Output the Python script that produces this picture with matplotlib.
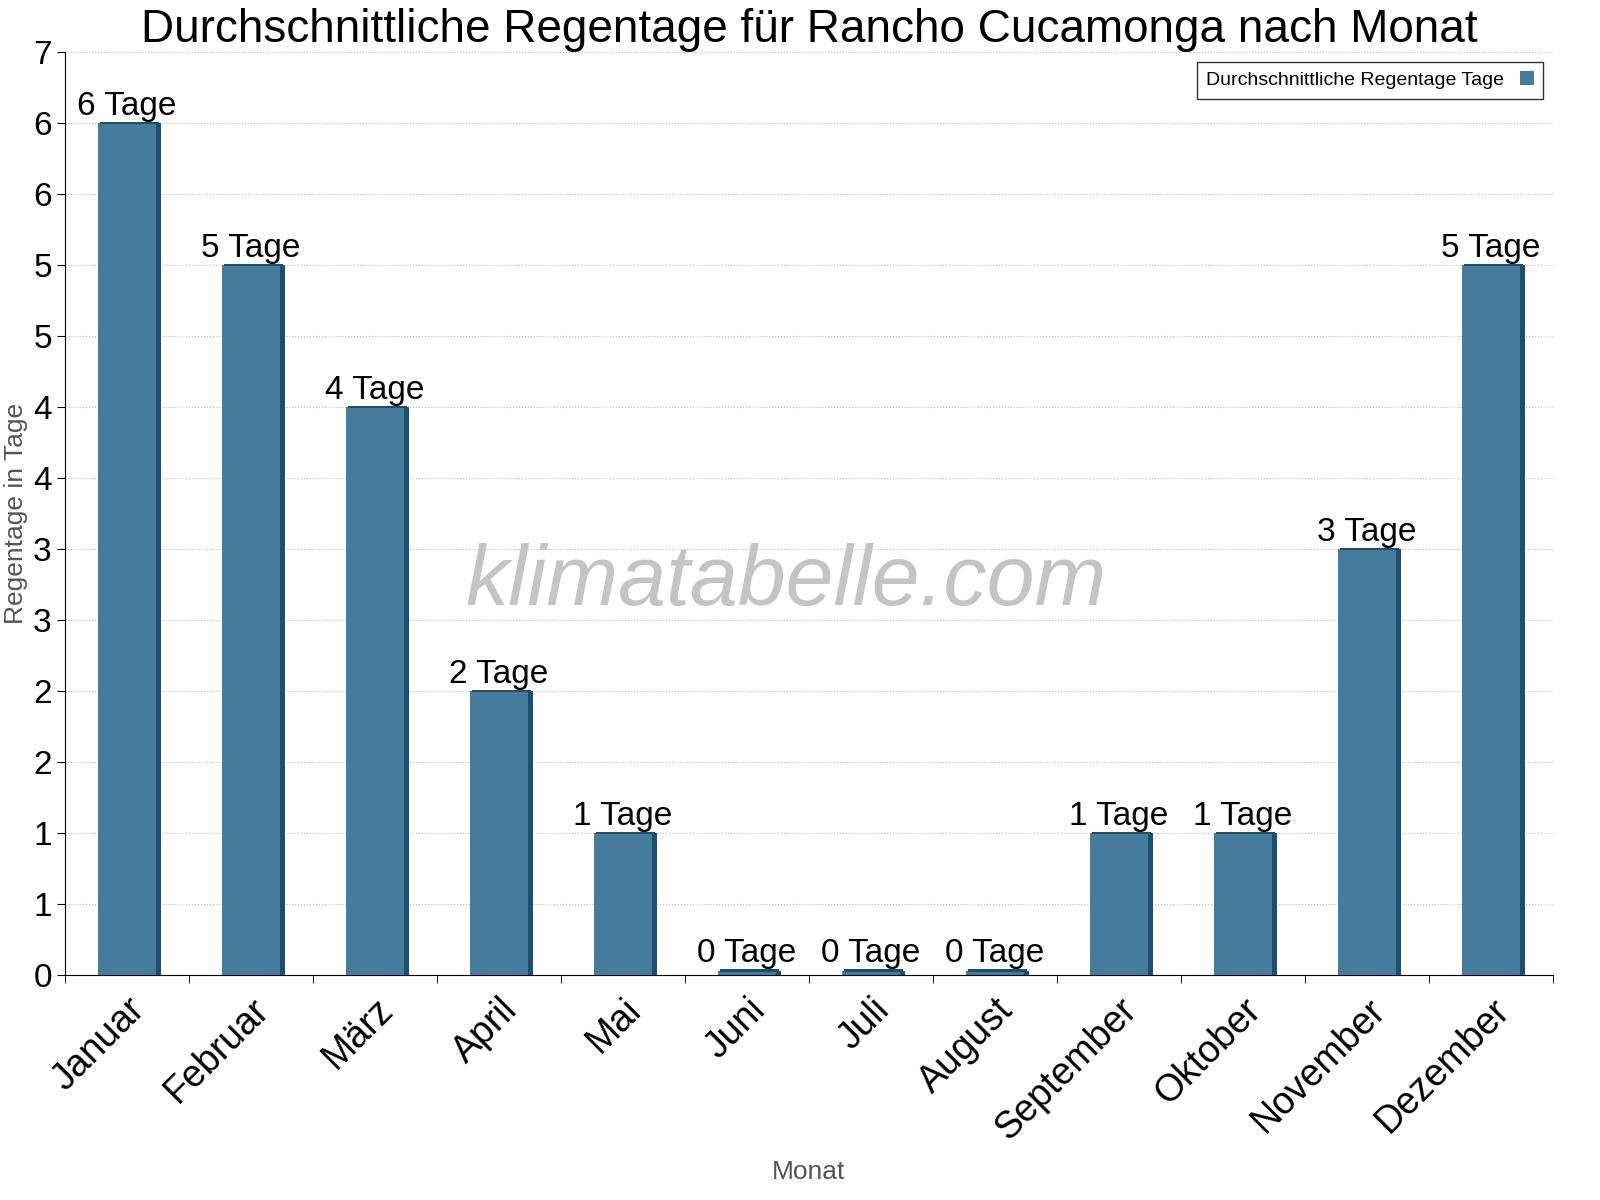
import matplotlib
matplotlib.use("Agg")
import matplotlib.pyplot as plt
import matplotlib.transforms as mtransforms
import numpy as np
from matplotlib.ticker import FuncFormatter, MultipleLocator
import math

months = ["Januar", "Februar", "März", "April", "Mai", "Juni", "Juli", "August",
          "September", "Oktober", "November", "Dezember"]
rain_days = [6, 5, 4, 2, 1, 0, 0, 0, 1, 1, 3, 5]

FACE = "#457b9d"
SIDE = "#1d4e6e"

plt.rcParams["font.family"] = "Liberation Sans"
fig = plt.figure(figsize=(16, 12), dpi=100)
ax = fig.add_axes([65 / 1600, 1 - 975 / 1200, (1553 - 65) / 1600, (975 - 52) / 1200])

x = np.arange(len(months))
w = 0.47
vals = np.array(rain_days, dtype=float)
shown = np.where(vals == 0, 0.03, vals)
ax.bar(x, shown, w, color=FACE, zorder=3, label="Durchschnittliche Regentage Tage")
ax.bar(x + w / 2 + 0.02, shown, 0.04, color=SIDE, zorder=3)
ax.bar(x + 0.02, 0.02, w, bottom=shown - 0.01, color=SIDE, zorder=4)

for xi, v, s in zip(x, rain_days, shown):
    ax.text(xi, s + 0.01, f"{v} Tage", ha="center", va="bottom", fontsize=24, zorder=5)

ax.set_xlim(-0.5, len(months) - 0.5)
ax.set_ylim(0, 6.5)
ax.yaxis.set_major_locator(MultipleLocator(0.5))
ax.yaxis.set_major_formatter(FuncFormatter(lambda v, p: str(int(math.floor(v + 0.5)))))
ax.set_xticks(x)
ax.set_xticklabels(months, rotation=45, ha="right", rotation_mode="anchor", fontsize=27)
offset = mtransforms.ScaledTranslation(0.45, 0, fig.dpi_scale_trans)
for lbl in ax.get_xticklabels():
    lbl.set_transform(lbl.get_transform() + offset)
ax.set_xticks(np.arange(len(months) + 1) - 0.5, minor=True)
ax.tick_params(axis="x", which="major", length=0, pad=12)
ax.tick_params(axis="x", which="minor", length=6)
ax.tick_params(axis="y", labelsize=24, length=6)
ax.grid(axis="y", linestyle=":", color="#bbbbbb", zorder=0)
for s in ["top", "right"]:
    ax.spines[s].set_visible(False)

ax.set_title("Durchschnittliche Regentage für Rancho Cucamonga nach Monat", fontsize=33, pad=6)
ax.set_ylabel("Regentage in Tage", fontsize=19, color="#555555")
ax.set_xlabel("Monat", fontsize=19, color="#555555")
ax.xaxis.set_label_coords(0.5, -0.2)
ax.text(0.485, 0.425, "klimatabelle.com", transform=ax.transAxes, ha="center", va="center",
        fontsize=62, style="italic", color="#c4c4c4", zorder=2)
ax.legend(loc="upper right", fontsize=14, fancybox=False, edgecolor="black",
          markerfirst=False, handlelength=0.7, borderpad=0.5)

fig.savefig("out.png")
